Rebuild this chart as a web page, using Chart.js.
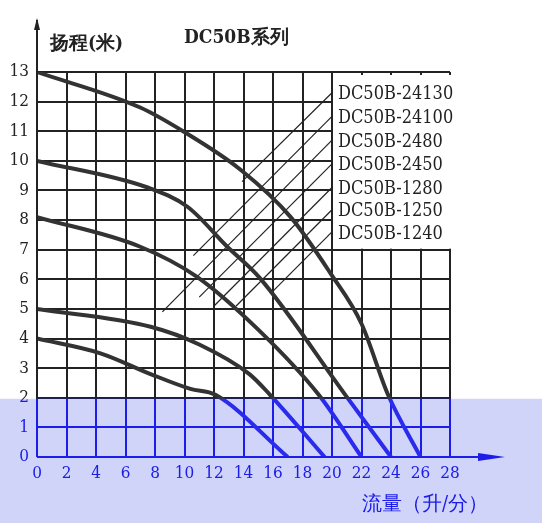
<!DOCTYPE html>
<html><head><meta charset="utf-8">
<script src="https://cdn.jsdelivr.net/npm/chart.js"></script>
<style>html,body{margin:0;padding:0;background:#fff}#c{width:542px;height:523px}</style>
</head><body>
<div id="c"><canvas id="chart"></canvas></div>
<script>
// curves: flow (L/min) vs head (m)
const curve13 = [[0,13],[7,11.8],[9.9,11],[13.8,9.7],[17.2,8.1],[19.9,6.2],[22,4.5],[23.8,2.1],[26,0]];
const curve10 = [[0,10],[7.5,9.1],[10.2,8.45],[12.9,7.1],[15.1,6.05],[20.9,2.1],[24,0]];
const curve8  = [[0,8.1],[7,7.1],[10.8,6.1],[15,4.3],[19.1,2.1],[22,0]];
const curve5  = [[0,5],[7.7,4.4],[11,3.8],[14.4,2.8],[15.8,2.1],[19.5,0]];
const curve4  = [[0,4],[4.3,3.5],[7.7,2.8],[10.4,2.3],[12.1,2.1],[17,0]];
const curves = [curve13, curve10, curve8, curve5, curve4];

const models = ['DC50B-24130','DC50B-24100','DC50B-2480','DC50B-2450','DC50B-1280','DC50B-1250','DC50B-1240'];
const labelHeads = [12.3,11.5,10.7,9.9,9.1,8.35,7.6];
const leaderEnds = [[13.9,9.3],[10.6,6.8],[8.5,4.9],[11,5.4],[12,5.1],[13.5,5.1],[16,5.6]];

const xTicks = [0,2,4,6,8,10,12,14,16,18,20,22,24,26,28];
const yTicks = [0,1,2,3,4,5,6,7,8,9,10,11,12,13];

const FONT = '"DejaVu Serif Condensed","Liberation Serif",serif';

const datasets = [];
curves.forEach(c => datasets.push({
  data: c.map(p => ({x:p[0], y:p[1]})), showLine:true, cubicInterpolationMode:'monotone',
  borderColor:'#333', borderWidth:4, pointRadius:0
}));
models.forEach((m,i) => datasets.push({
  data: [{x:20,y:labelHeads[i]},{x:leaderEnds[i][0],y:leaderEnds[i][1]}],
  showLine:true, borderColor:'#222', borderWidth:1.2, pointRadius:0
}));

const deco = {
  id:'deco',
  beforeDraw(ch){
    const ctx = ch.ctx;
    ctx.save(); ctx.fillStyle='#fff'; ctx.fillRect(0,0,ch.width,ch.height); ctx.restore();
  },
  beforeDatasetsDraw(ch){
    const {ctx, scales:{x,y}} = ch;
    ctx.save();
    ctx.fillStyle='#fff';
    ctx.fillRect(x.getPixelForValue(20)+1, y.getPixelForValue(12.9), x.getPixelForValue(28)-x.getPixelForValue(20)+4, y.getPixelForValue(7)-y.getPixelForValue(12.9)-1);
    ctx.restore();
  },
  afterDraw(ch){
    const {ctx, scales:{x,y}, chartArea:a} = ch;
    ctx.save();
    ctx.strokeStyle='#222'; ctx.lineWidth=2;
    ctx.beginPath(); ctx.moveTo(a.left,a.bottom); ctx.lineTo(a.left,20); ctx.stroke();
    ctx.beginPath(); ctx.moveTo(a.left,18); ctx.lineTo(a.left-3,30); ctx.lineTo(a.left+3,30); ctx.closePath(); ctx.fillStyle='#222'; ctx.fill();
    ctx.beginPath(); ctx.moveTo(a.left,a.bottom); ctx.lineTo(496,a.bottom); ctx.stroke();
    ctx.beginPath(); ctx.moveTo(505,a.bottom); ctx.lineTo(478,a.bottom-4); ctx.lineTo(478,a.bottom+4); ctx.closePath(); ctx.fill();
    ctx.fillStyle='#222'; ctx.textBaseline='middle'; ctx.textAlign='left';
    ctx.font='18px '+FONT;
    models.forEach((m,i)=>ctx.fillText(m, x.getPixelForValue(20)+6, y.getPixelForValue(labelHeads[i])+2));
    ctx.font='bold 19px '+FONT;
    ctx.fillText('扬程(米)', 50, 44);
    ctx.fillText('DC50B系列', 184, 38);
    ctx.font='20px '+FONT;
    ctx.fillText('流量（升/分）', 362, 505);
    // blue band over the lower part
    const yb = y.getPixelForValue(2)+1;
    ctx.globalCompositeOperation='screen';
    ctx.fillStyle='#0000f0';
    ctx.fillRect(0,yb,542,523-yb);
    ctx.globalCompositeOperation='multiply';
    ctx.fillStyle='#d0d4f8';
    ctx.fillRect(0,yb,542,523-yb);
    ctx.restore();
  }
};

new Chart(document.getElementById('chart'), {
  type:'scatter',
  data:{datasets},
  options:{
    responsive:true, maintainAspectRatio:false, animation:false,
    layout:{padding:{top:72,right:92,left:0,bottom:0}},
    plugins:{legend:{display:false},tooltip:{enabled:false}},
    scales:{
      x:{type:'linear',min:0,max:28,
        afterBuildTicks:s=>{s.ticks=xTicks.map(v=>({value:v}));},
        afterFit:s=>{s.height=66;},
        grid:{color:'#222',lineWidth:2,drawTicks:false},border:{display:false},
        ticks:{color:'#222',font:{family:FONT,size:17},padding:6,maxRotation:0,autoSkip:false}},
      y:{type:'linear',min:0,max:13,
        afterBuildTicks:s=>{s.ticks=yTicks.map(v=>({value:v}));},
        afterFit:s=>{s.width=37;},
        grid:{color:'#222',lineWidth:2,drawTicks:false},border:{display:false},
        ticks:{color:'#222',font:{family:FONT,size:17},padding:8}}
    }
  },
  plugins:[deco]
});
</script>
</body></html>
